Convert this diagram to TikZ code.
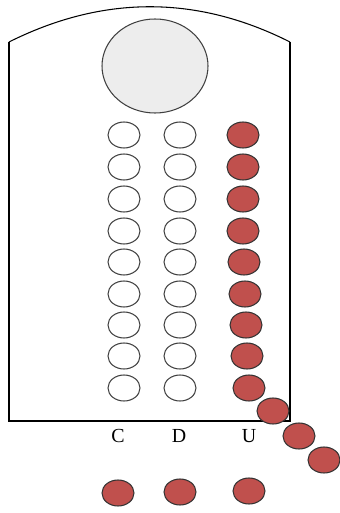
\documentclass[tikz,border=0pt]{standalone}
\usepackage{fontspec}
\setmainfont{Liberation Serif}
\usetikzlibrary{shapes.geometric}
\definecolor{bead}{HTML}{C0504D}
\begin{document}
\begin{tikzpicture}[
    x=0.03cm, y=-0.03cm,
    every node/.style={draw=black!75, ellipse, line width=0.9pt, minimum width=0.96cm, minimum height=0.78cm, inner sep=0pt},
    empty/.style={fill=white},
    full/.style={fill=bead, draw=black!80},
    letter/.style={draw=none, rectangle, minimum size=0pt, font=\fontsize{17}{20}\selectfont}
]
\useasboundingbox (0,0) rectangle (339,513);
% frame
\draw[line width=0.9pt] (9,42) .. controls (103,-5) and (197,-5) .. (290,42);
\draw[line width=0.9pt] (9,42) -- (9,421) -- (290,421) -- (290,42);
\node[fill=black!7, minimum width=3.18cm, minimum height=2.82cm] (top) at (155,66) {};
% columns
\foreach \i/\y/\ux in {1/135/243, 2/167/243, 3/199/243, 4/231/243, 5/262/244, 6/294/245, 7/325/246, 8/356/247, 9/388/249} {
    \node[empty] (c\i) at (124,\y) {};
    \node[empty] (d\i) at (180,\y) {};
    \node[full] (u\i) at (\ux,\y) {};
}
\node[full] (u10) at (273,411) {};
\node[full] (u11) at (299,436) {};
\node[full] (u12) at (324,460) {};
% labels
\node[letter] (lc) at (118,436) {C};
\node[letter] (ld) at (179,436) {D};
\node[letter] (lu) at (249,436) {U};
\node[full] (cout) at (118,493) {};
\node[full] (dout) at (180,492) {};
\node[full] (uout) at (249,491) {};
\end{tikzpicture}
\end{document}
